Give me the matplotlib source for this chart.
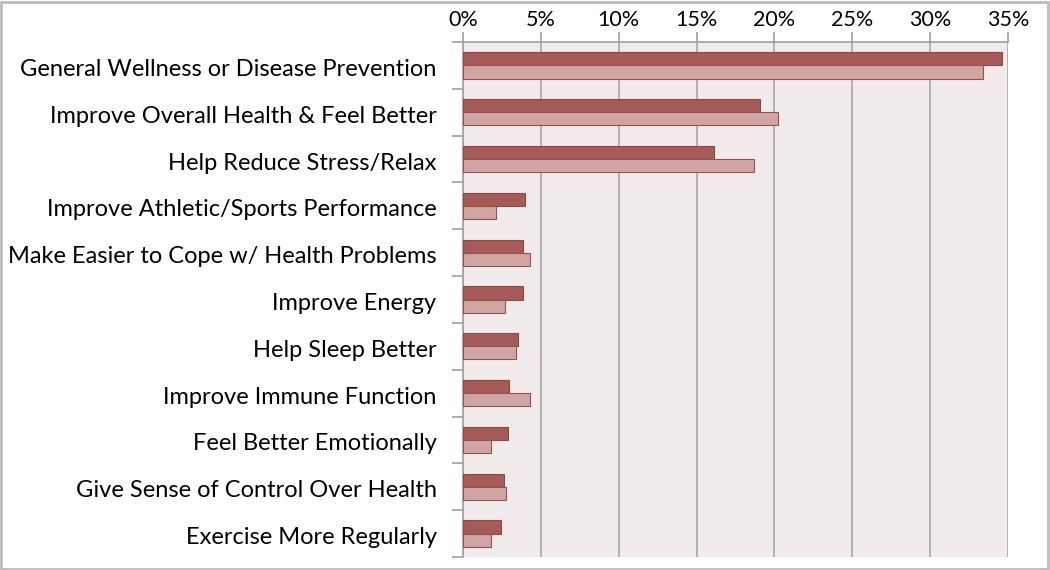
import matplotlib
matplotlib.use("Agg")
import matplotlib.pyplot as plt
import matplotlib.transforms as mtransforms
from matplotlib.patches import Rectangle
import numpy as np

categories = [
    "General Wellness or Disease Prevention",
    "Improve Overall Health & Feel Better",
    "Help Reduce Stress/Relax",
    "Improve Athletic/Sports Performance",
    "Make Easier to Cope w/ Health Problems",
    "Improve Energy",
    "Help Sleep Better",
    "Improve Immune Function",
    "Feel Better Emotionally",
    "Give Sense of Control Over Health",
    "Exercise More Regularly",
]
series_dark = [34.6, 19.1, 16.1, 4.0, 3.85, 3.85, 3.5, 2.95, 2.9, 2.65, 2.45]
series_light = [33.4, 20.2, 18.7, 2.1, 4.3, 2.7, 3.4, 4.3, 1.8, 2.75, 1.8]
xticks = [0, 5, 10, 15, 20, 25, 30, 35]
xticklabels = ["0%", "5%", "10%", "15%", "20%", "25%", "30%", "35%"]

plt.rcParams['font.family'] = ['Lato', 'DejaVu Sans']

W, H = 1050, 570
fig = plt.figure(figsize=(W / 100, H / 100), dpi=100)
ax = fig.add_axes([463 / W, 1 - 557 / H, (1008 - 463) / W, (557 - 42) / H])

n = len(categories)
y = np.arange(n)
bh = 0.28
ax.barh(y - bh / 2, series_dark, height=bh, color="#a55b57", edgecolor="#8e4744", linewidth=0.8, zorder=3)
ax.barh(y + bh / 2, series_light, height=bh, color="#cfa6a4", edgecolor="#9b4f4c", linewidth=0.8, zorder=3)

ax.set_facecolor("#f2ebeb")
ax.set_xlim(0, 35)
ax.set_ylim(n - 0.5, -0.5)
ax.xaxis.tick_top()
ax.set_xticks(xticks)
ax.set_xticklabels(xticklabels, fontsize=15.5)
ax.tick_params(axis='x', length=7, color="#a0a0a0", width=1.2, pad=2)
ax.grid(axis='x', color="#a8a8a8", linewidth=1.2, zorder=1)

ax.set_yticks(y)
ax.set_yticklabels(categories, fontsize=17, va='center')
ax.tick_params(axis='y', length=0, pad=19)
ax.set_yticks(np.arange(n + 1) - 0.5, minor=True)
ax.tick_params(axis='y', which='minor', length=8, color="#a0a0a0", width=1.2)
offset = mtransforms.ScaledTranslation(0, -4 / 100, fig.dpi_scale_trans)
for lbl in ax.get_yticklabels():
    lbl.set_transform(lbl.get_transform() + offset)

for s in ['right', 'bottom']:
    ax.spines[s].set_visible(False)
for s in ['top', 'left']:
    ax.spines[s].set_color("#a0a0a0")
    ax.spines[s].set_linewidth(1.2)

fig.patches.append(Rectangle((0.001, 0.002), 0.997, 0.995, transform=fig.transFigure,
                             fill=False, edgecolor="#bcbcbc", linewidth=2))

fig.savefig("out.png", dpi=100)
